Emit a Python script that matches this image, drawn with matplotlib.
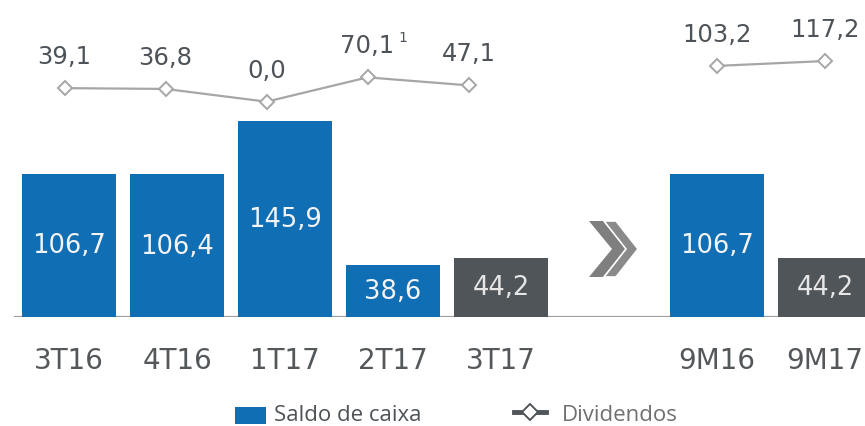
import matplotlib
matplotlib.use('Agg')
import matplotlib.pyplot as plt
from matplotlib.patches import Rectangle, Polygon
from matplotlib.lines import Line2D
import numpy as np

plt.rcParams['font.family'] = 'DejaVu Sans'

# Data
QUARTERS = ['3T16', '4T16', '1T17', '2T17', '3T17']
PERIODS = ['9M16', '9M17']
SALDO_Q = [106.7, 106.4, 145.9, 38.6, 44.2]
SALDO_9M = [106.7, 44.2]
DIV_Q = [39.1, 36.8, 0.0, 70.1, 47.1]
DIV_9M = [103.2, 117.2]

BLUE = '#106EB4'
DARK = '#505559'
LINE = '#A6A6A6'
TXT = '#4D5358'

W, H = 865, 427
fig = plt.figure(figsize=(W / 100, H / 100), dpi=100)

rect = [0, 109 / H, 1, 318 / H]
ax = fig.add_axes(rect)
ax.set_xlim(-69 / 108, 796 / 108)
ax.set_ylim(0, 318 / 1.343)
ax.axis('off')

# bar positions: quarters, gap, then 9M
labels = QUARTERS + PERIODS
values = SALDO_Q + SALDO_9M
xpos = np.concatenate([np.arange(len(QUARTERS)), len(QUARTERS) + 1 + np.arange(len(PERIODS))])
colors = [BLUE] * 4 + [DARK] + [BLUE, DARK]

ax.bar(xpos, values, width=0.875, color=colors, zorder=2)
for x, v, c, lab in zip(xpos, values, colors, labels):
    tc = '#F4F4F4' if c == BLUE else '#E6E6E6'
    ax.text(x, v / 2, f'{v:.1f}'.replace('.', ','), ha='center', va='center',
            fontsize=18.5, color=tc, zorder=3)
    ax.text(x, -29 / 1.343, lab, ha='center', va='top', fontsize=20, color='#54585A')

ax.axhline(0, xmin=15 / W, xmax=1, color='#A0A0A0', lw=1.6, zorder=1)

# dividend lines (own scales)
ylim2 = (-215.3 / 0.347, 102.7 / 0.347)
ax_q = fig.add_axes(rect, facecolor='none')
ax_q.set_xlim(-64.5 / 101, 800.5 / 101)
ax_q.set_ylim(*ylim2)
ax_q.axis('off')
ax_m = fig.add_axes(rect, facecolor='none')
ax_m.set_xlim(ax.get_xlim())
ax_m.set_ylim(*ylim2)
ax_m.axis('off')

for a, xs, ys in [(ax_q, np.arange(len(DIV_Q)), DIV_Q),
                  (ax_m, xpos[len(QUARTERS):], DIV_9M)]:
    a.plot(xs, ys, color=LINE, lw=1.6, marker='D', ms=7.5, mfc='white',
           mec=LINE, mew=1.4, zorder=3)
    for x, v in zip(xs, ys):
        a.annotate(f'{v:.1f}'.replace('.', ','), (x, v), xytext=(0, 18),
                   textcoords='offset points', ha='center', va='baseline',
                   fontsize=17.5, color=TXT)

# footnote mark on 70,1
ax_q.annotate('1', (3, DIV_Q[3]), xytext=(22, 26), textcoords='offset points',
              ha='left', va='baseline', fontsize=10, color=TXT)

# chevron separator
def px(pts):
    return [(x / W, 1 - y / H) for x, y in pts]

fig.add_artist(Polygon(px([(589, 222), (603, 222), (626, 250), (603, 278), (589, 278), (612, 250)]),
                       closed=True, facecolor='#7F7F7F', edgecolor='none',
                       transform=fig.transFigure))
fig.add_artist(Polygon(px([(604, 222), (616, 222), (638, 250), (616, 278), (604, 278), (626, 250)]),
                       closed=True, facecolor='#8A8A8A', edgecolor='white', lw=1.2,
                       transform=fig.transFigure))

# legend
fig.add_artist(Rectangle((235 / W, 1 - 425 / H), 31 / W, 17 / H, facecolor=BLUE,
                         edgecolor='none', transform=fig.transFigure))
fig.text(274 / W, 1 - 416 / H, 'Saldo de caixa', family='Open Sans', fontsize=16,
         color=TXT, va='center', ha='left')
fig.add_artist(Line2D([514 / W, 546 / W], [1 - 413 / H, 1 - 413 / H], color=DARK, lw=3.5,
                      transform=fig.transFigure))
fig.add_artist(Line2D([530 / W], [1 - 413 / H], marker='D', ms=8, mfc='white', mec=DARK,
                      mew=1.4, transform=fig.transFigure))
fig.text(562 / W, 1 - 416 / H, 'Dividendos', family='Open Sans', fontsize=16,
         color='#707070', va='center', ha='left')

fig.savefig('out.png', dpi=100, facecolor='white')
